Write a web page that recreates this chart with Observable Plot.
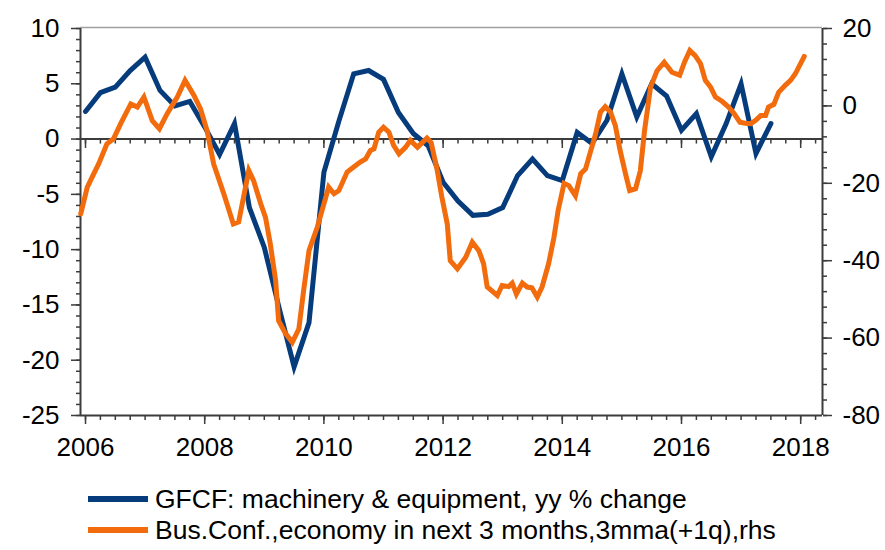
<!DOCTYPE html>
<html><head><meta charset="utf-8">
<script src="https://cdn.jsdelivr.net/npm/d3@7"></script>
<script src="https://cdn.jsdelivr.net/npm/@observablehq/plot@0.6"></script>
<style>
body{margin:0;background:#fff;font-family:Arial,"Liberation Sans",sans-serif;}
#legend{position:relative;height:80px;width:885px;}
.item{position:absolute;left:88px;height:30px;display:flex;align-items:center;font-size:26.5px;color:#000;white-space:nowrap;}
.swatch{width:60px;height:6px;margin-right:7px;}
</style></head><body>
<div id="chart"></div>
<div id="legend"></div>
<script>
// ---- data ----
const seriesNames = ["GFCF: machinery & equipment, yy % change", "Bus.Conf.,economy in next 3 months,3mma(+1q),rhs"];
const seriesColors = ["#073c7c", "#f26b0c"];

// GFCF machinery & equipment, yy % change, quarterly from 2006Q1
const gfcfStart = 2006;
const gfcfValues = [
  2.5, 4.2, 4.7, 6.2,
  7.4, 4.4, 3.0, 3.4,
  1.1, -1.4, 1.4, -6.2,
  -9.8, -15.3, -20.6, -16.6,
  -3.0, 1.6, 5.9, 6.2,
  5.4, 2.4, 0.5, -0.6,
  -3.9, -5.6, -6.9, -6.8,
  -6.2, -3.3, -1.8, -3.3,
  -3.75, 0.6, -0.4, 1.7,
  5.9, 2.0, 5.0, 3.9,
  0.8, 2.3, -1.6, 1.4,
  5.0, -1.3, 1.4
];

// Business confidence (rhs), decimal-year dates and values
const bcDates = [
  2005.92, 2006.03, 2006.14, 2006.22, 2006.36, 2006.47, 2006.59, 2006.76, 2006.87, 2006.98,
  2007.12, 2007.24, 2007.37, 2007.54, 2007.67, 2007.82, 2007.93, 2008.04, 2008.15, 2008.32,
  2008.48, 2008.57, 2008.74, 2008.82, 2008.94, 2009.02, 2009.10, 2009.19, 2009.24, 2009.36,
  2009.47, 2009.58, 2009.66, 2009.75, 2009.89, 2010.08, 2010.17, 2010.25, 2010.39, 2010.50,
  2010.61, 2010.70, 2010.78, 2010.84, 2010.92, 2011.00, 2011.09, 2011.17, 2011.26, 2011.37,
  2011.45, 2011.57, 2011.65, 2011.73, 2011.80, 2011.90, 2011.98, 2012.07, 2012.12, 2012.24,
  2012.38, 2012.49, 2012.60, 2012.68, 2012.74, 2012.91, 2012.99, 2013.10, 2013.16, 2013.23,
  2013.33, 2013.41, 2013.49, 2013.58, 2013.66, 2013.77, 2013.86, 2013.93, 2014.03, 2014.11,
  2014.22, 2014.31, 2014.39, 2014.47, 2014.56, 2014.64, 2014.72, 2014.81, 2014.89, 2014.97,
  2015.06, 2015.13, 2015.23, 2015.31, 2015.38, 2015.48, 2015.59, 2015.71, 2015.84, 2015.97,
  2016.05, 2016.14, 2016.23, 2016.32, 2016.40, 2016.49, 2016.57, 2016.68, 2016.79, 2016.88,
  2016.98, 2017.07, 2017.16, 2017.24, 2017.33, 2017.41, 2017.46, 2017.55, 2017.63, 2017.74,
  2017.83, 2017.91, 2018.06
];
const bcValues = [
  -27.9, -21.0, -17.5, -15.0, -9.8, -8.5, -4.6, 0.5, -0.3, 2.3,
  -3.8, -5.9, -2.0, 2.3, 6.6, 2.7, -0.8, -6.4, -15.0, -22.7,
  -30.5, -30.0, -16.7, -19.3, -25.3, -28.8, -35.6, -45.1, -55.5, -58.9,
  -61.1, -57.6, -47.7, -37.4, -31.3, -21.0, -22.7, -21.9, -17.1, -15.8,
  -14.5, -13.7, -11.5, -11.1, -6.8, -5.5, -6.8, -10.2, -12.4, -10.7,
  -8.9, -10.7, -9.5, -8.3, -9.5, -16.5, -23.6, -30.5, -40.0, -42.1,
  -39.1, -35.2, -37.4, -40.8, -46.8, -49.0, -46.4, -46.7, -45.8, -48.6,
  -45.8, -46.8, -47.0, -49.4, -46.8, -40.8, -34.0, -27.0, -20.0, -20.6,
  -23.2, -17.5, -16.3, -12.0, -7.2, -1.6, -0.2, -1.6, -5.1, -11.5,
  -17.5, -21.9, -21.4, -16.7, -6.4, 4.8, 9.1, 11.3, 8.7, 7.9,
  11.3, 14.3, 13.0, 10.9, 6.6, 4.8, 2.3, 1.2, -0.3, -1.9,
  -4.2, -4.5, -4.6, -3.8, -2.5, -2.5, -0.3, 0.4, 3.5, 5.3,
  6.6, 8.3, 12.8
];

// axis ticks
const leftTicks = [10, 5, 0, -5, -10, -15, -20, -25];
const rightTicks = [20, 0, -20, -40, -60, -80];
const xLabelYears = [2006, 2008, 2010, 2012, 2014, 2016, 2018];
const leftDomain = [-25, 10];
const rightDomain = [-80, 20];
const xDomain = [2005.916, 2018.366];

// ---- build ----
// map rhs values onto lhs scale
const toLeft = r => leftDomain[0] + (r - rightDomain[0]) * (leftDomain[1] - leftDomain[0]) / (rightDomain[1] - rightDomain[0]);
const fromLeft = v => rightDomain[0] + (v - leftDomain[0]) * (rightDomain[1] - rightDomain[0]) / (leftDomain[1] - leftDomain[0]);

const gfcf = gfcfValues.map((v, i) => ({t: gfcfStart + i / 4, v}));
const bc = bcDates.map((t, i) => ({t, v: toLeft(bcValues[i])}));

const leftMinor = d3.range(leftDomain[0], leftDomain[1] + 0.001, 1);
const rightMinor = d3.range(rightDomain[0], rightDomain[1] + 0.001, 4).map(toLeft);
const quarters = d3.range(0, 50).map(i => 2006 + i / 4);

const axisColor = "#3c3c3c";
const fmt = d => String(Math.round(d));

const chart = Plot.plot({
  width: 885, height: 470,
  marginLeft: 80, marginRight: 63, marginTop: 28, marginBottom: 55,
  style: {fontFamily: "Arial, 'Liberation Sans', sans-serif", fontSize: "26px", color: "#000", background: "#fff", overflow: "visible"},
  x: {domain: xDomain},
  y: {domain: leftDomain},
  marks: [
    Plot.ruleY([leftDomain[1]], {stroke: "#a0a0a0", strokeWidth: 1.5, dy: -1}),
    // left axis
    Plot.axisY({anchor: "left", ticks: leftMinor, tickSize: 4, tickFormat: () => "", stroke: axisColor, strokeWidth: 1.5, label: null}),
    Plot.axisY({anchor: "left", ticks: leftTicks, tickSize: 9, tickPadding: 12, tickFormat: fmt, stroke: axisColor, fill: "#000", strokeWidth: 1.5, label: null}),
    // right axis
    Plot.axisY({anchor: "right", ticks: rightMinor, tickSize: 4, tickFormat: () => "", stroke: axisColor, strokeWidth: 1.5, label: null}),
    Plot.axisY({anchor: "right", ticks: rightTicks.map(toLeft), tickSize: 9, tickPadding: 11, tickFormat: v => fmt(fromLeft(v)), stroke: axisColor, fill: "#000", strokeWidth: 1.5, label: null}),
    // bottom axis
    Plot.axisX({anchor: "bottom", ticks: quarters, tickSize: 5, tickFormat: () => "", stroke: axisColor, strokeWidth: 1.5, label: null}),
    Plot.axisX({anchor: "bottom", ticks: xLabelYears, tickSize: 9, tickPadding: 13, tickFormat: fmt, stroke: axisColor, fill: "#000", strokeWidth: 1.5, label: null}),
    // axis lines
    Plot.ruleX([xDomain[0]], {stroke: axisColor, strokeWidth: 2}),
    Plot.ruleX([xDomain[1]], {stroke: axisColor, strokeWidth: 2}),
    Plot.ruleY([leftDomain[0]], {stroke: axisColor, strokeWidth: 2}),
    // zero line with ticks
    Plot.ruleY([0], {stroke: axisColor, strokeWidth: 2}),
    Plot.ruleX(quarters, {x: d => d, y1: 0, y2: -0.45, stroke: axisColor, strokeWidth: 1.5}),
    Plot.ruleX(xLabelYears, {x: d => d, y1: 0, y2: -0.85, stroke: axisColor, strokeWidth: 1.5}),
    // series
    Plot.line(gfcf, {x: "t", y: "v", stroke: seriesColors[0], strokeWidth: 5, strokeLinejoin: "miter", strokeMiterlimit: 4, curve: "linear"}),
    Plot.line(bc, {x: "t", y: "v", stroke: seriesColors[1], strokeWidth: 5, strokeLinejoin: "miter", strokeMiterlimit: 4, curve: "linear"})
  ]
});
document.getElementById("chart").appendChild(chart);

// legend
const legend = document.getElementById("legend");
seriesNames.forEach((name, i) => {
  const item = document.createElement("div");
  item.className = "item";
  item.style.top = (14 + i * 31) + "px";
  const sw = document.createElement("span");
  sw.className = "swatch";
  sw.style.background = seriesColors[i];
  const label = document.createElement("span");
  label.textContent = name;
  item.appendChild(sw);
  item.appendChild(label);
  legend.appendChild(item);
});
</script></body></html>
